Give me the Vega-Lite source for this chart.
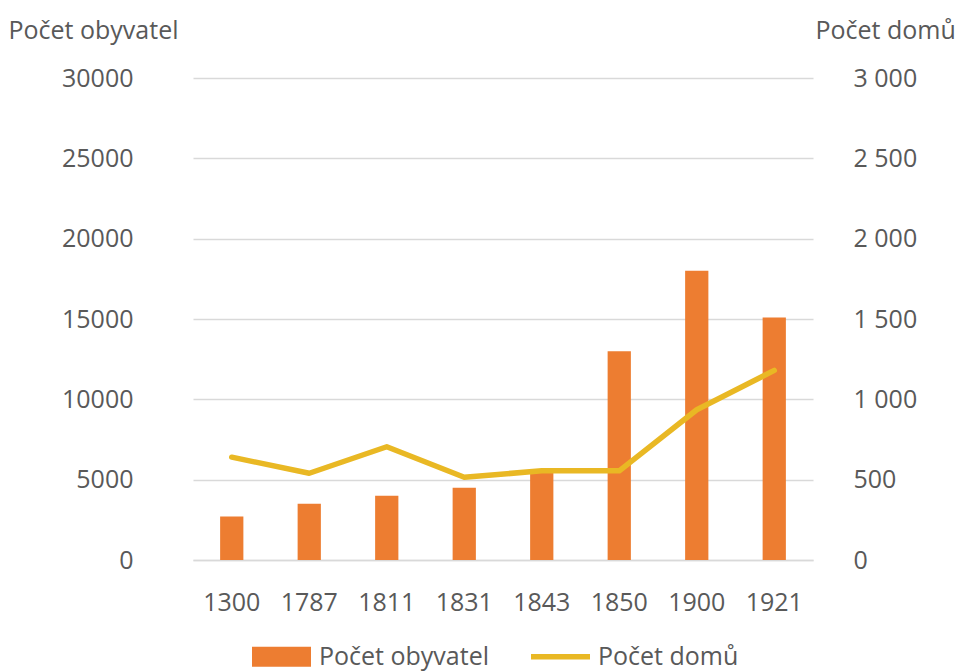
{
  "$schema": "https://vega.github.io/schema/vega-lite/v6.json",
  "width": 620,
  "height": 482,
  "autosize": {"type": "none"},
  "padding": {"left": 193, "top": 78, "right": 150, "bottom": 111},
  "background": "white",
  "config": {
    "view": {"stroke": null},
    "font": "Open Sans",
    "axis": {"labelFont": "Open Sans", "titleFont": "Open Sans", "labelColor": "#595959", "titleColor": "#595959", "labelFontSize": 25, "titleFontSize": 25, "titleFontWeight": "normal", "ticks": false},
    "legend": {"labelFont": "Open Sans", "labelFontSize": 25, "labelColor": "#595959"}
  },
  "data": {
    "values": [
      {"rok": "1300", "obyvatel": 2700, "domy": 640},
      {"rok": "1787", "obyvatel": 3500, "domy": 540},
      {"rok": "1811", "obyvatel": 4000, "domy": 705},
      {"rok": "1831", "obyvatel": 4500, "domy": 515},
      {"rok": "1843", "obyvatel": 5600, "domy": 555},
      {"rok": "1850", "obyvatel": 13000, "domy": 555},
      {"rok": "1900", "obyvatel": 18000, "domy": 935},
      {"rok": "1921", "obyvatel": 15100, "domy": 1180}
    ]
  },
  "encoding": {
    "x": {
      "field": "rok",
      "type": "nominal",
      "sort": null,
      "scale": {"paddingInner": 0.7, "paddingOuter": 0.35},
      "axis": {"title": null, "labelAngle": 0, "labelPadding": 30, "domain": true, "domainColor": "#D9D9D9", "domainWidth": 1.5, "grid": false}
    },
    "color": {
      "scale": {"domain": ["Počet obyvatel", "Počet domů"], "range": ["#ED7D31", "#E9B824"]},
      "legend": {
        "title": null,
        "orient": "none",
        "legendX": 59,
        "legendY": 549,
        "direction": "horizontal",
        "symbolSize": 3481,
        "symbolStrokeWidth": 0,
        "labelOffset": 8,
        "columnPadding": 42,
        "labelLimit": 400,
        "encode": {
          "symbols": {
            "update": {
              "shape": {"signal": "datum.value === 'Počet obyvatel' ? 'M-1,-0.34H1V0.34H-1Z' : 'M-1,-0.09H1V0.09H-1Z'"},
              "fill": {"scale": "color", "field": "value"},
              "strokeWidth": {"value": 0},
              "opacity": {"value": 1}
            }
          }
        }
      }
    }
  },
  "layer": [
    {
      "mark": {"type": "bar"},
      "encoding": {
        "y": {
          "field": "obyvatel",
          "type": "quantitative",
          "scale": {"domain": [0, 30000], "nice": false},
          "axis": {
            "orient": "left",
            "values": [0, 5000, 10000, 15000, 20000, 25000, 30000],
            "format": "d",
            "domain": false,
            "grid": true,
            "gridColor": "#D9D9D9",
            "gridWidth": 1.5,
            "labelPadding": 60,
            "title": "Počet obyvatel",
            "titleAngle": 0,
            "titleAlign": "left",
            "titleBaseline": "middle",
            "titleX": -185,
            "titleY": -48
          }
        },
        "color": {"datum": "Počet obyvatel"}
      }
    },
    {
      "mark": {"type": "line", "strokeWidth": 5.5, "strokeCap": "round", "strokeJoin": "round"},
      "encoding": {
        "y": {
          "field": "domy",
          "type": "quantitative",
          "scale": {"domain": [0, 3000], "nice": false},
          "axis": {
            "orient": "right",
            "values": [0, 500, 1000, 1500, 2000, 2500, 3000],
            "labelExpr": "replace(format(datum.value, ','), ',', ' ')",
            "domain": false,
            "grid": false,
            "labelPadding": 40,
            "title": "Počet domů",
            "titleAngle": 0,
            "titleAlign": "left",
            "titleBaseline": "middle",
            "titleX": 2,
            "titleY": -48
          }
        },
        "color": {"datum": "Počet domů"}
      }
    }
  ],
  "resolve": {"scale": {"y": "independent"}}
}
